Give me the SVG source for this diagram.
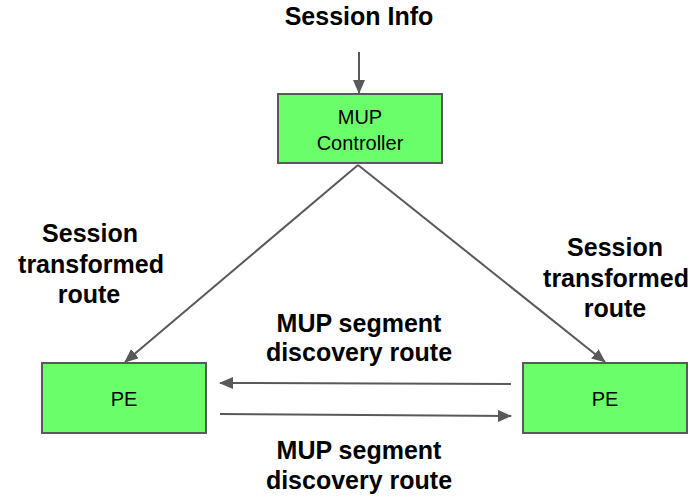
<svg xmlns="http://www.w3.org/2000/svg" width="696" height="498" viewBox="0 0 696 498">
<style>
.box{fill:#6aff6a;stroke:#595959;stroke-width:2}
.bt{font-family:"Liberation Sans",Arial,sans-serif;font-size:20px;fill:#000;text-anchor:middle}
.lb{font-family:"Liberation Sans",Arial,sans-serif;font-size:25px;font-weight:bold;fill:#000;text-anchor:middle}
.cn{stroke:#595959;stroke-width:2;fill:none;marker-end:url(#ah)}
</style>
<defs>
<marker id="ah" markerUnits="userSpaceOnUse" markerWidth="14" markerHeight="12" refX="13" refY="6" orient="auto">
<path d="M0,0 L14,6 L0,12 z" fill="#595959"/>
</marker>
</defs>
<g id="connectors">
<line class="cn" x1="359" y1="52" x2="359" y2="93"/>
<line class="cn" x1="358" y1="165" x2="125" y2="362"/>
<line class="cn" x1="358" y1="165" x2="605" y2="362"/>
<line class="cn" x1="511" y1="384" x2="220" y2="383"/>
<line class="cn" x1="220" y1="414" x2="511" y2="416"/>
</g>
<g id="session-info">
<text class="lb" x="359" y="25">Session Info</text>
</g>
<g id="mup-controller">
<rect class="box" x="278" y="94" width="164" height="69"/>
<text class="bt" x="360" y="124">MUP</text>
<text class="bt" x="360" y="150">Controller</text>
</g>
<g id="pe-left">
<rect class="box" x="42" y="363" width="164" height="70"/>
<text class="bt" x="124" y="406">PE</text>
</g>
<g id="pe-right">
<rect class="box" x="523" y="363" width="164" height="70"/>
<text class="bt" x="605" y="406">PE</text>
</g>
<g id="label-left">
<text class="lb" x="90" y="242">Session</text>
<text class="lb" x="91" y="273">transformed</text>
<text class="lb" x="89" y="303">route</text>
</g>
<g id="label-right">
<text class="lb" x="615" y="256">Session</text>
<text class="lb" x="616" y="287">transformed</text>
<text class="lb" x="615" y="317">route</text>
</g>
<g id="label-mid-top">
<text class="lb" x="359" y="332">MUP segment</text>
<text class="lb" x="359" y="361">discovery route</text>
</g>
<g id="label-mid-bottom">
<text class="lb" x="359" y="459">MUP segment</text>
<text class="lb" x="359" y="489">discovery route</text>
</g>
</svg>
